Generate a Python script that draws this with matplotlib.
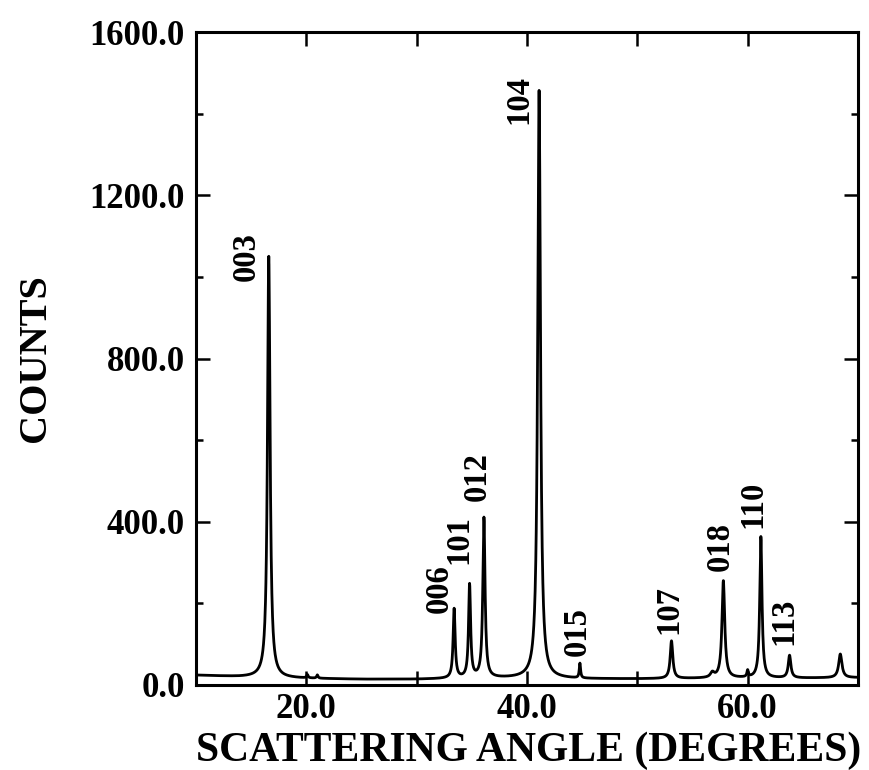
import numpy as np
import matplotlib
matplotlib.use("Agg")
import matplotlib.pyplot as plt

# Reflections: 2-theta position (deg), net height above background (counts), FWHM (deg)
peak_labels = ["003", "006", "101", "012", "104", "015", "107", "018", "110", "113"]
peak_pos = [16.6, 33.4, 34.8, 36.1, 41.1, 44.8, 53.1, 57.8, 61.2, 63.8]
peak_height = [1032, 170, 228, 392, 1440, 36, 92, 238, 346, 55]
peak_fwhm = [0.28, 0.22, 0.22, 0.24, 0.30, 0.14, 0.28, 0.30, 0.24, 0.28]

# Weaker, unindexed features
extra_pos = [20.1, 21.0, 56.8, 60.0, 68.4]
extra_height = [8, 8, 12, 16, 58]
extra_fwhm = [0.15, 0.15, 0.4, 0.15, 0.35]

# Smooth background readings (counts)
bg_angle = [10, 12, 14, 16, 18, 20, 25, 30, 35, 40, 45, 50, 55, 60, 65, 70]
bg_counts = [24, 22, 20, 19, 17, 16, 14, 14, 16, 17, 15, 15, 16, 17, 17, 18]

# Label offsets from each peak top (pixels)
label_dx = [-23, -15, -11, -7, -20, -3, -3, -3, -8, -6]
label_dy = [-25, -4, 21, 17, -33, 8, 7, 10, 9, 11]

x_ticks = [20, 30, 40, 50, 60]
x_ticklabels = ["20.0", "", "40.0", "", "60.0"]
y_ticks = [0, 400, 800, 1200, 1600]
y_ticklabels = ["0.0", "400.0", "800.0", "1200.0", "1600.0"]

two_theta = np.arange(10.0, 70.0001, 0.02)


def lorentz(x, x0, h, w):
    return h / (1.0 + ((x - x0) / (w / 2.0)) ** 2)


counts = np.interp(two_theta, bg_angle, bg_counts)
for p, h, w in zip(peak_pos + extra_pos, peak_height + extra_height, peak_fwhm + extra_fwhm):
    counts = counts + lorentz(two_theta, p, h, w)

font = {"family": "Liberation Serif", "weight": "bold"}

fig = plt.figure(figsize=(8.69, 7.70), dpi=100)
ax = fig.add_axes([0.2255, 0.1104, 0.7618, 0.848])
ax.plot(two_theta, counts, color="black", lw=2.0)

ax.set_xlim(10, 70)
ax.set_ylim(0, 1600)
ax.set_xticks(x_ticks)
ax.set_xticklabels(x_ticklabels, fontdict=font, fontsize=25)
ax.set_yticks(y_ticks)
ax.set_yticklabels(y_ticklabels, fontdict=font, fontsize=25)
ax.set_yticks([200, 600, 1000, 1400], minor=True)
ax.tick_params(which="both", direction="in", top=True, right=True, width=1.8)
ax.tick_params(which="major", length=10)
ax.tick_params(which="minor", length=5)
ax.tick_params(axis="y", pad=8)
ax.tick_params(axis="x", pad=6)
for s in ax.spines.values():
    s.set_linewidth(2.2)

ax.set_xlabel("SCATTERING ANGLE (DEGREES)", fontdict=font, fontsize=30)
ax.xaxis.set_label_coords(0.503, -0.071)
ax.xaxis.label.set_va("top")
ax.set_ylabel("COUNTS", fontdict=font, fontsize=29)
ax.yaxis.set_label_coords(-0.215, 0.5)

for lab, p, h, dx, dy in zip(peak_labels, peak_pos, peak_height, label_dx, label_dy):
    top = h + np.interp(p, bg_angle, bg_counts)
    ax.annotate(lab, xy=(p, top), xytext=(dx, dy), textcoords="offset pixels",
                rotation=90, ha="center", va="bottom", fontfamily="Liberation Serif",
                fontweight="bold", fontsize=23.5)

fig.savefig("out.png", dpi=100)
